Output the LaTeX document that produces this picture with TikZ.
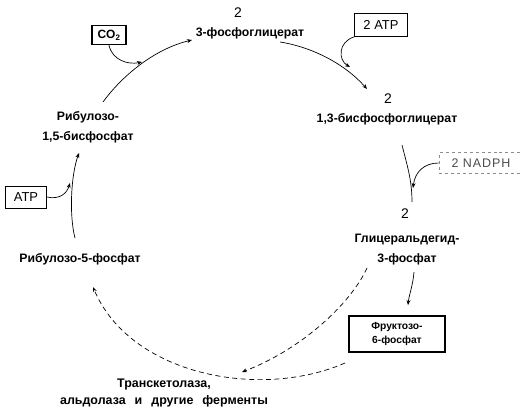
\documentclass[tikz,border=0pt]{standalone}
\usepackage{fontspec}
\setmainfont{Liberation Sans}
\usetikzlibrary{arrows.meta}
\begin{document}
\begin{tikzpicture}[x=1bp,y=-1bp,
  lbl/.style={font=\fontsize{12.3}{20}\selectfont\bfseries, align=center, inner sep=0pt},
  num/.style={font=\fontsize{14}{16}\selectfont, inner sep=0pt},
  boxed/.style={draw, line width=0.9pt, inner sep=0pt, align=center},
  arr/.style={line width=0.7pt, -{Stealth[length=5pt,width=4pt]}},
  darr/.style={arr, dash pattern=on 5pt off 3.5pt},
  plain/.style={line width=0.7pt}]
\useasboundingbox (0,0) rectangle (520,417);

% nodes
\node[num] (n2a) at (238,13) {2};
\node[lbl] (pga) at (250,33) {3-фосфоглицерат};
\node[boxed, line width=1.3pt, minimum width=34bp, minimum height=19bp, font=\fontsize{12}{14}\selectfont\bfseries] (co2) at (109,35) {CO\textsubscript{2}};
\node[boxed, minimum width=53bp, minimum height=23bp, font=\fontsize{13}{15}\selectfont] (atp2) at (381,25) {2 ATP};
\node[num] (n2b) at (388,99) {2};
\node[lbl] (bpg) at (387,119) {1,3-бисфосфоглицерат};
\node[draw=black!45, dashed, line width=0.7pt, minimum width=84bp, minimum height=21bp, inner sep=0pt, font=\fontsize{12.5}{14}\selectfont\addfontfeature{LetterSpace=8}, text=black!70] (nadph) at (481,163) {2 NADPH};
\node[num] (n2c) at (405,214) {2};
\node[lbl] (gap) at (407,250) {Глицеральдегид-\\3-фосфат};
\node[boxed, line width=1.3pt, minimum width=96bp, minimum height=36bp, font=\fontsize{10.3}{15}\selectfont\bfseries] (f6p) at (397,334) {Фруктозо-\\6-фосфат};
\node[lbl, font=\fontsize{12.5}{17}\selectfont\bfseries] (trans) at (164,393) {Транскетолаза,\\альдолаза\hspace{9bp}и\hspace{9bp}другие\hspace{9bp}ферменты};
\node[lbl] (r5p) at (80,259) {Рибулозо-5-фосфат};
\node[lbl] (rubp) at (88,127) {Рибулозо-\\1,5-бисфосфат};
\node[boxed, line width=0.7pt, minimum width=41bp, minimum height=22bp, font=\fontsize{13}{15}\selectfont] (atp) at (26,197) {ATP};

% connector end points
\coordinate (c1s) at (103,102); \coordinate (c1e) at (192,40);
\coordinate (c2s) at (280,42);  \coordinate (c2e) at (367,89);
\coordinate (c3s) at (402,145); \coordinate (c3e) at (412,202);
\coordinate (c4s) at (75,238);  \coordinate (c4e) at (79,153);
\coordinate (c5s) at (414,272); \coordinate (c5e) at (408,305);
\coordinate (d1s) at (367,268); \coordinate (d1e) at (242,372);
\coordinate (d2s) at (345,363); \coordinate (d2e) at (93,287);
\coordinate (s1e) at (142,62);
\coordinate (s2e) at (350,67);
\coordinate (s3e) at (413,188);
\coordinate (s4e) at (70,183);

% main cycle
\draw[arr] (c1s) .. controls (125,72) and (158,48) .. (c1e);
\draw[arr] (c2s) .. controls (312,47) and (345,64) .. (c2e);
\draw[plain] (c3s) .. controls (407,165) and (412,180) .. (c3e);
\draw[arr] (c4s) .. controls (69,215) and (71,175) .. (c4e);
\draw[arr] (c5s) .. controls (413,285) and (409,295) .. (c5e);

% side inputs
\draw[arr] (co2.south) .. controls (112,60) and (128,65) .. (s1e);
\draw[arr] (atp2.south west) .. controls (338,42) and (338,60) .. (s2e);
\draw[arr] (nadph.west) .. controls (424,163) and (415,172) .. (s3e);
\draw[arr] (atp.east) .. controls (60,200) and (67,193) .. (s4e);

% dashed regeneration
\draw[darr] (d1s) .. controls (350,305) and (300,350) .. (d1e);
\draw[darr] (d2s) .. controls (260,400) and (130,375) .. (d2e);
\end{tikzpicture}
\end{document}
